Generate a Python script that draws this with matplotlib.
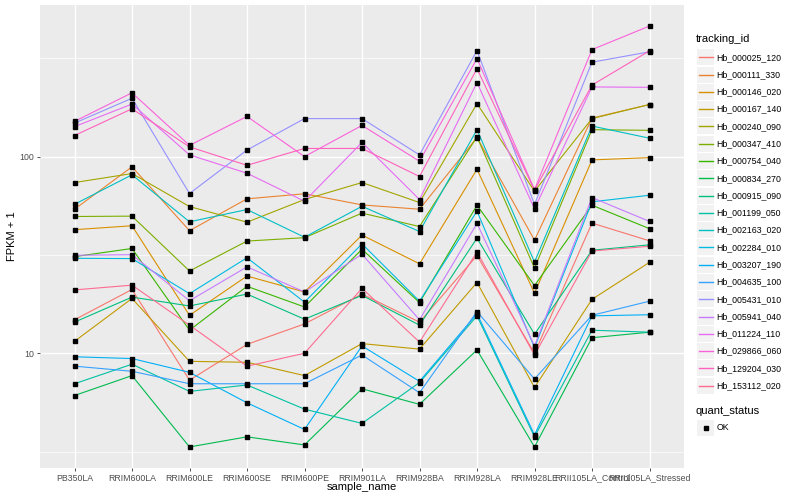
import numpy as np
import matplotlib.pyplot as plt
from matplotlib.lines import Line2D
from matplotlib.patches import Rectangle

plt.rcParams['font.family'] = ['Liberation Sans', 'DejaVu Sans']

samples = ['PB350LA', 'RRIM600LA', 'RRIM600LE', 'RRIM600SE', 'RRIM600PE', 'RRIM901LA',
           'RRIM928BA', 'RRIM928LA', 'RRIM928LE', 'RRII105LA_Control', 'RRII105LA_Stressed']

tracking_ids = ['Hb_000025_120', 'Hb_000111_330', 'Hb_000146_020', 'Hb_000167_140',
                'Hb_000240_090', 'Hb_000347_410', 'Hb_000754_040', 'Hb_000834_270',
                'Hb_000915_090', 'Hb_001199_050', 'Hb_002163_020', 'Hb_002284_010',
                'Hb_003207_190', 'Hb_004635_100', 'Hb_005431_010', 'Hb_005941_040',
                'Hb_011224_110', 'Hb_029866_060', 'Hb_129204_030', 'Hb_153112_020']

# FPKM + 1, one value per sample
hb_000025_120 = [14.8, 21.1, 7.3, 11.1, 14.1, 20.0, 14.4, 31.4, 10.0, 45.9, 37.3]
hb_000111_330 = [54.0, 88.7, 42.0, 61.0, 64.7, 56.8, 54.0, 125, 37.6, 157, 184]
hb_000146_020 = [42.5, 44.5, 15.6, 24.7, 20.5, 39.9, 28.5, 86.2, 20.2, 96.2, 98.8]
hb_000167_140 = [11.5, 19.0, 9.1, 9.0, 7.7, 11.2, 10.5, 22.9, 6.7, 18.8, 29.0]
hb_000240_090 = [73.8, 82.0, 55.7, 46.4, 60.5, 73.8, 58.4, 186, 66.7, 156, 184]
hb_000347_410 = [49.6, 49.8, 26.2, 37.2, 38.7, 51.6, 44.1, 126, 27.1, 137, 136]
hb_000754_040 = [31.0, 34.1, 13.1, 21.9, 17.2, 33.8, 18.1, 56.6, 22.1, 56.6, 43.0]
hb_000834_270 = [6.1, 7.7, 3.34, 3.76, 3.42, 6.6, 5.5, 10.4, 3.34, 12.0, 12.8]
hb_000915_090 = [14.4, 19.3, 17.4, 20.0, 14.9, 19.7, 13.9, 38.5, 12.5, 33.4, 35.6]
hb_001199_050 = [7.0, 8.8, 6.4, 6.9, 5.2, 4.4, 7.1, 15.5, 3.76, 13.1, 12.8]
hb_002163_020 = [57.2, 80.8, 46.6, 53.8, 38.9, 55.9, 41.6, 137, 29.1, 143, 124]
hb_002284_010 = [30.4, 30.3, 20.1, 30.6, 18.2, 36.0, 18.4, 52.8, 10.7, 58.9, 63.6]
hb_003207_190 = [9.6, 9.4, 8.0, 5.6, 4.1, 10.9, 7.2, 15.9, 3.85, 15.5, 15.7]
hb_004635_100 = [8.6, 8.1, 7.0, 7.0, 7.0, 9.8, 6.3, 16.3, 7.4, 15.6, 18.4]
hb_005431_010 = [148, 198, 64.9, 108, 156, 156, 102, 346, 57.1, 302, 341]
hb_005941_040 = [31.5, 31.7, 18.5, 27.5, 20.5, 31.9, 14.8, 45.7, 10.9, 61.9, 46.8]
hb_011224_110 = [142, 185, 102, 82.3, 59.3, 118, 60.5, 238, 54.3, 226, 225]
hb_029866_060 = [151, 211, 114, 160, 100, 144, 94.7, 315, 68.0, 350, 461]
hb_129204_030 = [128, 175, 112, 90.3, 110, 110, 79.2, 280, 67.5, 231, 345]
hb_153112_020 = [21.0, 22.2, 13.9, 8.6, 10.0, 21.4, 11.4, 32.7, 9.8, 33.1, 35.0]

fpkm = [hb_000025_120, hb_000111_330, hb_000146_020, hb_000167_140, hb_000240_090,
        hb_000347_410, hb_000754_040, hb_000834_270, hb_000915_090, hb_001199_050,
        hb_002163_020, hb_002284_010, hb_003207_190, hb_004635_100, hb_005431_010,
        hb_005941_040, hb_011224_110, hb_029866_060, hb_129204_030, hb_153112_020]

# ggplot hue palette, 20 levels
colors = ['#F8766D', '#EA8331', '#D89000', '#C09B00', '#A3A500', '#7CAE00', '#39B600',
          '#00BB4E', '#00BF7D', '#00C1A3', '#00BFC4', '#00BAE0', '#00B0F6', '#35A2FF',
          '#9590FF', '#C77CFF', '#E76BF3', '#FA62DB', '#FF62BC', '#FF6C91']

W, H = 800, 500
fig = plt.figure(figsize=(W / 100, H / 100), dpi=100)
ax = fig.add_axes([40 / W, 1 - 468 / H, 644 / W, 463 / H])
ax.set_facecolor('#EBEBEB')
for s in ax.spines.values():
    s.set_visible(False)

x = np.arange(len(samples))
for vals, col in zip(fpkm, colors):
    ax.plot(x, vals, color=col, lw=0.8, zorder=3)
for vals in fpkm:
    ax.plot(x, vals, ls='none', marker='s', ms=2.8, color='black', zorder=4)

ax.set_yscale('log')
allv = np.log10(np.concatenate(fpkm))
lo, hi = allv.min(), allv.max()
pad = 0.05 * (hi - lo)
ax.set_ylim(10 ** (lo - pad), 10 ** (hi + pad))
ax.set_xlim(-0.6, len(samples) - 0.4)

ax.set_yticks([10, 100])
ax.set_yticklabels(['10', '100'])
ax.set_yticks([10 ** 0.5, 10 ** 1.5, 10 ** 2.5], minor=True)
ax.set_xticks(x)
ax.set_xticklabels(samples)
ax.tick_params(which='major', labelsize=6.3, labelcolor='#4D4D4D', color='#333333',
               length=2, width=0.6, pad=2)
ax.tick_params(which='minor', length=0, labelleft=False)
ax.grid(which='major', color='white', lw=1.0, zorder=0)
ax.grid(which='minor', axis='y', color='white', lw=0.5, zorder=0)
ax.set_axisbelow(True)

ax.set_xlabel('sample_name', fontsize=8)
ax.set_ylabel('FPKM + 1', fontsize=8)
ax.xaxis.set_label_coords(0.5, -0.041)
ax.xaxis.label.set_va('center')
ax.yaxis.set_label_coords(-28 / 644, 0.5)
ax.yaxis.label.set_va('center')

# legends, drawn by hand in pixel positions
fx = lambda px: px / W
fy = lambda py: 1 - py / H

def key_box(yc):
    fig.add_artist(Rectangle((fx(697), fy(yc + 8)), 17 / W, 16 / H, transform=fig.transFigure,
                             facecolor='#F2F2F2', edgecolor='none', zorder=1))

fig.text(fx(696), fy(39), 'tracking_id', fontsize=8, va='center', ha='left')
for i, (name, col) in enumerate(zip(tracking_ids, colors)):
    yc = 57.3 + 17.28 * i
    key_box(yc)
    fig.add_artist(Line2D([fx(698.5), fx(712.5)], [fy(yc), fy(yc)], color=col, lw=1.0,
                          transform=fig.transFigure, zorder=2))
    fig.text(fx(716.5), fy(yc), name, fontsize=6.3, va='center', ha='left')

fig.text(fx(696), fy(411), 'quant_status', fontsize=8, va='center', ha='left')
key_box(428)
fig.add_artist(Line2D([fx(705.5)], [fy(428)], ls='none', marker='s', ms=2.8, color='black',
                      transform=fig.transFigure, zorder=2))
fig.text(fx(716.5), fy(428), 'OK', fontsize=6.3, va='center', ha='left')

fig.savefig('out.png', dpi=100, facecolor='white')
